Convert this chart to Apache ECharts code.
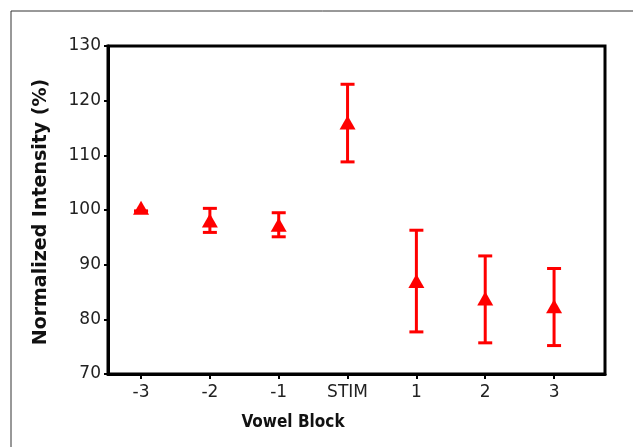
<!DOCTYPE html>
<html>
<head>
<meta charset="utf-8">
<script src="https://cdn.jsdelivr.net/npm/echarts@6/dist/echarts.min.js"></script>
<style>
  html, body { margin: 0; padding: 0; background: #fff; }
  #chart { width: 633px; height: 447px; }
</style>
</head>
<body>
<div id="chart"></div>
<script>
// categories along the x axis
var blocks = ["-3", "-2", "-1", "STIM", "1", "2", "3"];
// mean normalized intensity (%)
var means = [100.4, 98.1, 97.3, 116.0, 87.0, 83.8, 82.4];
// lower / upper ends of the error bars
var lows = [99.8, 95.9, 95.1, 108.8, 77.7, 75.7, 75.2];
var highs = [99.8, 100.3, 99.5, 123.0, 96.3, 91.6, 89.3];
// y axis ticks
var yTicks = [70, 80, 90, 100, 110, 120, 130];

var RED = "#ff0000";
var FONT = "DejaVu Sans";

var chart = echarts.init(document.getElementById("chart"));

//build data for the scatter and the error bars
var pointData = means.map(function(v, i) { return [i, v]; });
var barData = lows.map(function(v, i) { return [i, v, highs[i]]; });

//draw one error bar: vertical stem plus two caps
function renderErrorBar(params, api) {
  var lo = api.coord([api.value(0), api.value(1)]);
  var hi = api.coord([api.value(0), api.value(2)]);
  var half = 7;
  var style = { stroke: RED, lineWidth: 3, fill: null };
  return {
    type: "group",
    children: [
      { type: "line", shape: { x1: lo[0], y1: lo[1], x2: hi[0], y2: hi[1] }, style: style },
      { type: "line", shape: { x1: lo[0] - half, y1: lo[1], x2: lo[0] + half, y2: lo[1] }, style: style },
      { type: "line", shape: { x1: hi[0] - half, y1: hi[1], x2: hi[0] + half, y2: hi[1] }, style: style }
    ]
  };
}

var option = {
  backgroundColor: "#fff",
  animation: false,
  grid: {
    left: 108,
    top: 46,
    right: 28,
    bottom: 73,
    show: true,
    borderColor: "#000",
    borderWidth: 3,
    backgroundColor: "transparent"
  },
  xAxis: {
    type: "value",
    min: -0.48,
    max: 6.74,
    axisLine: { show: true, onZero: false, lineStyle: { color: "#000", width: 3 } },
    axisTick: {
      show: true,
      length: 5,
      lineStyle: { color: "#000", width: 2 },
      customValues: blocks.map(function(b, i) { return i; })
    },
    axisLabel: {
      margin: 10,
      color: "#222",
      fontFamily: FONT,
      fontSize: 17,
      customValues: blocks.map(function(b, i) { return i; }),
      formatter: function(v) { return blocks[Math.round(v)]; }
    },
    splitLine: { show: false }
  },
  yAxis: {
    type: "value",
    min: yTicks[0],
    max: yTicks[yTicks.length - 1],
    interval: 10,
    axisLine: { show: true, onZero: false, lineStyle: { color: "#000", width: 3 } },
    axisTick: { show: true, length: 4, lineStyle: { color: "#000", width: 2 } },
    axisLabel: {
      margin: 7,
      color: "#222",
      fontFamily: FONT,
      fontSize: 17
    },
    splitLine: { show: false }
  },
  graphic: [
    //outer frame, only its left and top edges fall inside the picture
    {
      type: "rect",
      shape: { x: 11, y: 11, width: 700, height: 500 },
      style: { fill: null, stroke: "#333", lineWidth: 1 },
      silent: true
    },
    {
      type: "text",
      x: 293,
      y: 423,
      style: {
        text: "Vowel Block",
        fill: "#111",
        font: "bold 17px 'DejaVu Sans Condensed'",
        align: "center",
        verticalAlign: "middle"
      }
    },
    {
      type: "text",
      x: 41,
      y: 212,
      rotation: Math.PI / 2,
      style: {
        text: "Normalized Intensity (%)",
        fill: "#111",
        font: "bold 19px 'DejaVu Sans'",
        align: "center",
        verticalAlign: "middle"
      }
    }
  ],
  series: [
    {
      type: "custom",
      renderItem: renderErrorBar,
      data: barData,
      z: 2
    },
    {
      type: "scatter",
      symbol: "triangle",
      symbolSize: [16, 14],
      itemStyle: { color: RED, opacity: 1 },
      data: pointData,
      z: 3
    }
  ]
};

chart.setOption(option);
</script>
</body>
</html>
